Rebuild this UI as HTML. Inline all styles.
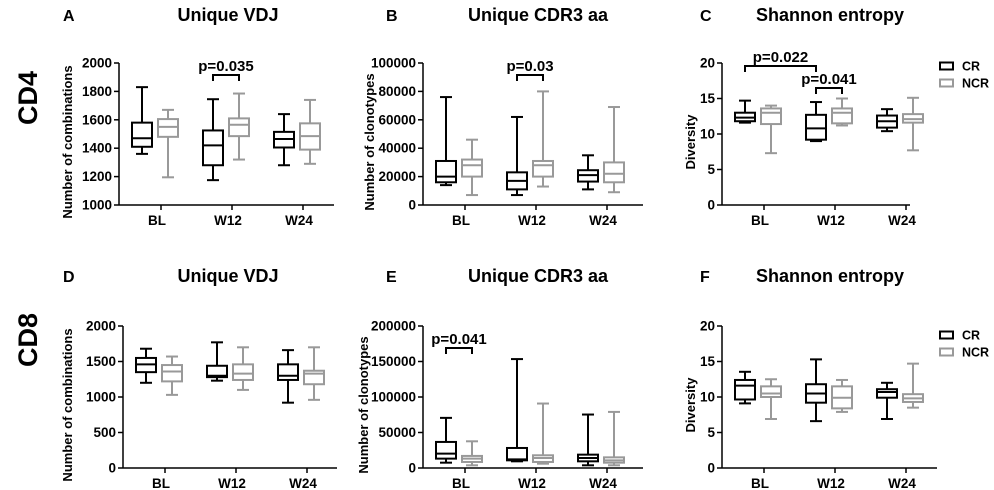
<!DOCTYPE html>
<html><head><meta charset="utf-8">
<style>
html,body{margin:0;padding:0;background:#fff;}
svg{display:block;font-family:"Liberation Sans",Arial,sans-serif;font-weight:bold;}
</style></head>
<body>
<svg id="fig" width="994" height="490" viewBox="0 0 994 490" xmlns="http://www.w3.org/2000/svg">
<text x="30" y="98" font-size="27" text-anchor="middle" transform="rotate(-90 30 98)" dominant-baseline="middle">CD4</text>
<text x="30" y="340" font-size="27" text-anchor="middle" transform="rotate(-90 30 340)" dominant-baseline="middle">CD8</text>
</svg>
<script>
const categories = ["BL","W12","W24"];
const groups = ["CR","NCR"];
// each box: [min, q1, median, q3, max]
const vdjCD4CR  = [[1360,1410,1470,1580,1830],[1175,1280,1420,1525,1745],[1280,1405,1465,1515,1640]];
const vdjCD4NCR = [[1195,1480,1550,1605,1670],[1320,1485,1565,1610,1785],[1290,1390,1485,1575,1740]];
const cdrCD4CR  = [[14000,16000,20000,31000,76000],[7000,11000,17000,23000,62000],[11000,16500,21000,24500,35000]];
const cdrCD4NCR = [[7000,20000,28000,32000,46000],[13000,20000,28000,31000,80000],[9000,16000,22000,30000,69000]];
const shCD4CR   = [[11.6,11.8,12.3,13.0,14.7],[9.0,9.2,10.8,12.7,14.5],[10.4,10.9,11.8,12.6,13.5]];
const shCD4NCR  = [[7.3,11.4,13.0,13.6,14.0],[11.2,11.5,13.0,13.6,15.0],[7.7,11.6,12.1,12.8,15.1]];
const vdjCD8CR  = [[1200,1350,1460,1550,1680],[1230,1280,1300,1440,1770],[920,1240,1300,1460,1660]];
const vdjCD8NCR = [[1030,1220,1360,1450,1570],[1100,1240,1330,1460,1700],[960,1180,1330,1370,1700]];
const cdrCD8CR  = [[7500,13200,20200,36700,70600],[9400,10800,12200,28200,153400],[3800,9400,14100,18800,75300]];
const cdrCD8NCR = [[3800,8500,13200,17000,37600],[6100,8500,14100,17900,90800],[3800,7500,10800,15000,79000]];
const shCD8CR   = [[9.1,9.65,11.6,12.4,13.55],[6.6,9.2,10.5,11.8,15.3],[6.9,9.9,10.7,11.1,12.0]];
const shCD8NCR  = [[6.9,10.0,10.5,11.5,12.5],[7.9,8.4,9.9,11.5,12.4],[8.5,9.3,9.8,10.4,14.7]];
const ticksVdjTop = [1000,1200,1400,1600,1800,2000];
const ticksCdrTop = [0,20000,40000,60000,80000,100000];
const ticksSh = [0,5,10,15,20];
const ticksVdjBot = [0,500,1000,1500,2000];
const ticksCdrBot = [0,50000,100000,150000,200000];
const tickLabelsCdrBot = ["0","50000","100000","150000","200000"];

const NS="http://www.w3.org/2000/svg";
const svg=document.getElementById('fig');
function el(tag,attrs,parent){const e=document.createElementNS(NS,tag);for(const k in attrs)e.setAttribute(k,attrs[k]);(parent||svg).appendChild(e);return e;}

function panel(o){
  const g=el('g',{});
  
  
  const yS=v=>o.yBot-(v-o.ymin)/(o.ymax-o.ymin)*(o.yBot-o.yTop);
  const xC=i=>o.x0+42+i*71;
  const lt=el('text',{x:o.letterX,y:o.titleY,'font-size':16},g);lt.textContent=o.letter;
  
  
  const tt=el('text',{x:o.titleX,y:o.titleY,'font-size':18,'text-anchor':'middle'},g);tt.textContent=o.title;
  
  
  const ya=el('line',{x1:o.x0,y1:o.yTop,x2:o.x0,y2:o.yBot,stroke:'#000','stroke-width':1.5},g);
  
  
  const xa=el('line',{x1:o.x0,y1:o.yBot,x2:o.x1,y2:o.yBot,stroke:'#000','stroke-width':1.5},g);
  
  
  o.ticks.forEach((t,k)=>{
    const y=yS(t);
    el('line',{x1:o.x0-5,y1:y,x2:o.x0,y2:y,stroke:'#000','stroke-width':1.5},g);
    const tx=el('text',{x:o.x0-7,y:y+4.5,'font-size':13.5,'text-anchor':'end'},g);
    tx.textContent=o.tickLabels?o.tickLabels[k]:String(t);
    
    
  });
  const ytx=o.x0-47-o.titleShift;
  const ym=(o.yTop+o.yBot)/2+8;
  const yt=el('text',{x:ytx,y:ym,'font-size':13,'text-anchor':'middle',transform:`rotate(-90 ${ytx} ${ym})`},g);
  yt.textContent=o.ylabel;
  
  
  categories.forEach((c,i)=>{
    const x=xC(i);
    el('line',{x1:x,y1:o.yBot,x2:x,y2:o.yBot+5,stroke:'#000','stroke-width':1.5},g);
    const ct=el('text',{x:x-4,y:o.yBot+20,'font-size':13.5,'text-anchor':'middle'},g);ct.textContent=c;
    
    
    [[o.cr,'#000',-13],[o.ncr,'#999',13]].forEach(([arr,col,off],s)=>{
      const d=arr[i];const cx=x+off-6;const w=20;
      const bg=el('g',{stroke:col,'stroke-width':2,fill:'none'},g);
      
      
      el('line',{x1:cx,y1:yS(d[4]),x2:cx,y2:yS(d[3])},bg);
      el('line',{x1:cx,y1:yS(d[1]),x2:cx,y2:yS(d[0])},bg);
      el('line',{x1:cx-6,y1:yS(d[4]),x2:cx+6,y2:yS(d[4])},bg);
      el('line',{x1:cx-6,y1:yS(d[0]),x2:cx+6,y2:yS(d[0])},bg);
      el('rect',{x:cx-w/2,y:yS(d[3]),width:w,height:yS(d[1])-yS(d[3])},bg);
      el('line',{x1:cx-w/2,y1:yS(d[2]),x2:cx+w/2,y2:yS(d[2])},bg);
    });
  });
  (o.sig||[]).forEach(s=>{
    const a=xC(s[0])+(s[1]?13:-13)-6,b=xC(s[2])+(s[3]?13:-13)-6,y=s[4];
    const p=el('path',{d:`M${a} ${y+6}V${y}H${b}V${y+6}`,stroke:'#000','stroke-width':2,fill:'none'},g);
    
    
    const t=el('text',{x:(a+b)/2,y:y-4,'font-size':15,'text-anchor':'middle'},g);t.textContent=s[5];
    
    
  });
  if(o.legend){
    const lg=el('g',{},g);
    
    
    [['CR','#000'],['NCR','#999']].forEach((e,k)=>{
      const yy=o.legend+k*17;
      el('rect',{x:940,y:yy-3.5,width:13,height:7,stroke:e[1],'stroke-width':2,fill:'none'},lg);
      const t=el('text',{x:962,y:yy+4.5,'font-size':12.5},lg);t.textContent=e[0];
      
      
    });
  }
}
panel({name:'panel-a',letter:'A',letterX:63,title:'Unique VDJ',titleX:228,titleY:21,x0:119,x1:334,yTop:63,yBot:205,ymin:1000,ymax:2000,ticks:ticksVdjTop,ylabel:'Number of combinations',titleShift:0,cr:vdjCD4CR,ncr:vdjCD4NCR,sig:[[1,0,1,1,75,'p=0.035']]});
panel({name:'panel-b',letter:'B',letterX:386,title:'Unique CDR3 aa',titleX:538,titleY:21,x0:423,x1:643,yTop:63,yBot:205,ymin:0,ymax:100000,ticks:ticksCdrTop,ylabel:'Number of clonotypes',titleShift:2,cr:cdrCD4CR,ncr:cdrCD4NCR,sig:[[1,0,1,1,75,'p=0.03']]});
panel({name:'panel-c',letter:'C',letterX:700,title:'Shannon entropy',titleX:830,titleY:21,x0:722,x1:910,yTop:63,yBot:205,ymin:0,ymax:20,ticks:ticksSh,ylabel:'Diversity',titleShift:-20,cr:shCD4CR,ncr:shCD4NCR,sig:[[0,0,1,0,66,'p=0.022'],[1,0,1,1,88,'p=0.041']],legend:66});
panel({name:'panel-d',letter:'D',letterX:63,title:'Unique VDJ',titleX:228,titleY:282,x0:123,x1:337,yTop:326,yBot:468,ymin:0,ymax:2000,ticks:ticksVdjBot,ylabel:'Number of combinations',titleShift:4,cr:vdjCD8CR,ncr:vdjCD8NCR});
panel({name:'panel-e',letter:'E',letterX:386,title:'Unique CDR3 aa',titleX:538,titleY:282,x0:423,x1:643,yTop:326,yBot:468,ymin:0,ymax:200000,ticks:ticksCdrBot,tickLabels:tickLabelsCdrBot,ylabel:'Number of clonotypes',titleShift:8,cr:cdrCD8CR,ncr:cdrCD8NCR,sig:[[0,0,0,1,348,'p=0.041']]});
panel({name:'panel-f',letter:'F',letterX:700,title:'Shannon entropy',titleX:830,titleY:282,x0:722,x1:937,yTop:326,yBot:468,ymin:0,ymax:20,ticks:ticksSh,ylabel:'Diversity',titleShift:-20,cr:shCD8CR,ncr:shCD8NCR,legend:335});
</script>
</body></html>
